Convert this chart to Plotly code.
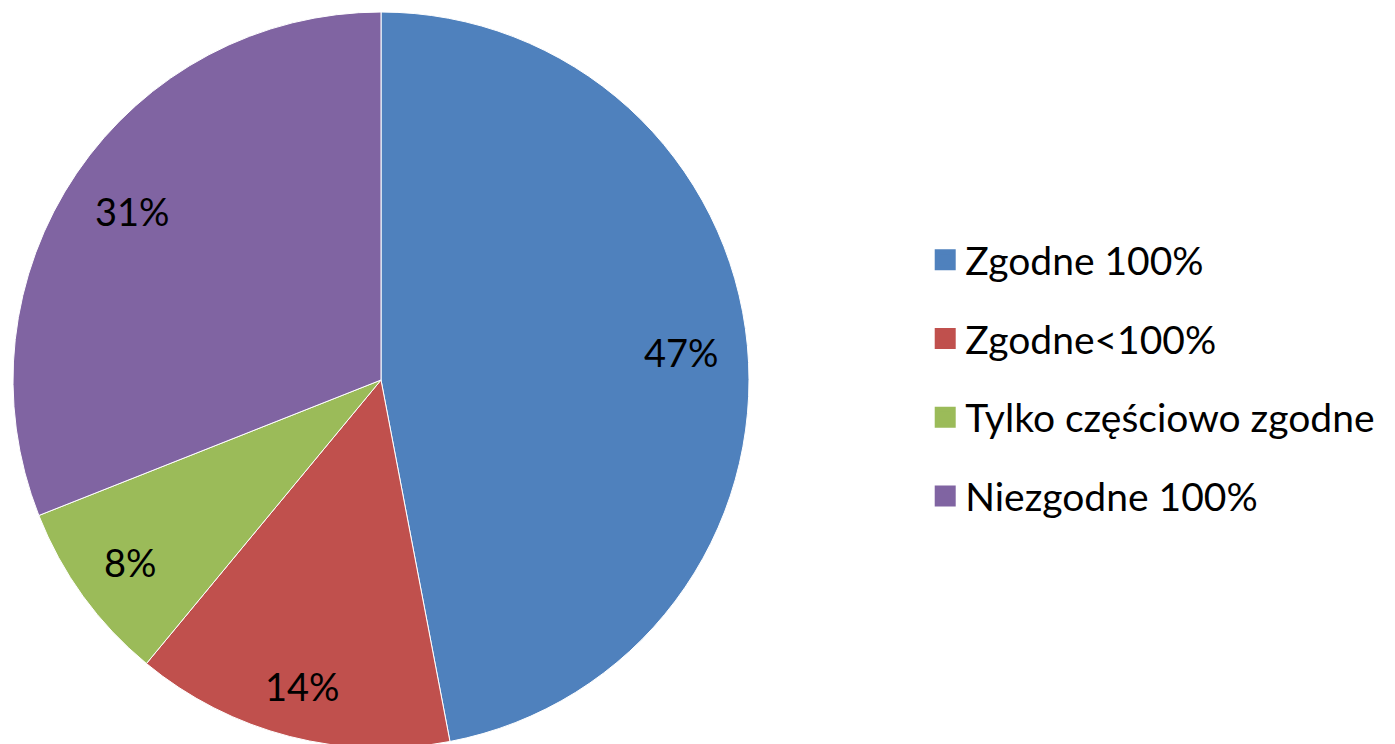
import math
import plotly.graph_objects as go

categories = ["Zgodne 100%", "Zgodne<100%", "Tylko częściowo zgodne", "Niezgodne 100%"]
values = [47, 14, 8, 31]
colors = ["#4F81BD", "#C0504D", "#9BBB59", "#8064A2"]

W, H = 1395, 744
OFF = 8  # page body margin
cx, cy, r = 381 - OFF, 380 - OFF, 368  # figure pixel coords
FS = 38

fig = go.Figure()
fig.add_trace(go.Pie(
    labels=categories, values=values, sort=False, direction="clockwise", rotation=0,
    marker=dict(colors=colors, line=dict(color="white", width=1)),
    textinfo="none", showlegend=False, hoverinfo="label+percent",
    domain=dict(x=[(cx - r) / W, (cx + r) / W], y=[(H - cy - r) / H, (H - cy + r) / H]),
))

# data labels placed like the original (text box kept a fixed distance inside the rim)
total = sum(values)
cum = 0
for v in values:
    mid = (cum + v / 2) / total * 2 * math.pi
    cum += v
    txt = f"{round(v / total * 100)}%"
    tw = FS * (0.58 * (len(txt) - 1) + 0.79)
    th = FS * 0.8
    ext = abs(math.sin(mid)) * tw / 2 + abs(math.cos(mid)) * th / 2
    rr = r - 28 - ext
    px = cx + rr * math.sin(mid)
    py = cy - rr * math.cos(mid)
    fig.add_annotation(x=px / W, y=1 - py / H, xref="paper", yref="paper",
                       text=txt, showarrow=False, xanchor="center", yanchor="middle",
                       font=dict(family="Lato", size=FS, color="black"))

for i, (c, col) in enumerate(zip(categories, colors)):
    fig.add_trace(go.Scatter(
        x=[None], y=[None], mode="markers", name=c, legendgroup=f"g{i}",
        marker=dict(symbol="square", size=16, color=col, line=dict(color=col, width=5)),
        showlegend=True,
    ))

fig.update_layout(
    width=W, height=H,
    margin=dict(l=0, r=0, t=0, b=0),
    paper_bgcolor="white", plot_bgcolor="white",
    xaxis=dict(visible=False), yaxis=dict(visible=False),
    legend=dict(
        x=0.6575, xanchor="left", y=(H - cy + 2) / H, yanchor="middle",
        font=dict(family="Lato", size=39, color="black"),
        tracegroupgap=25, itemwidth=30, bgcolor="rgba(0,0,0,0)",
    ),
    font=dict(family="Lato", color="black"),
)

fig.write_html("out.html")
